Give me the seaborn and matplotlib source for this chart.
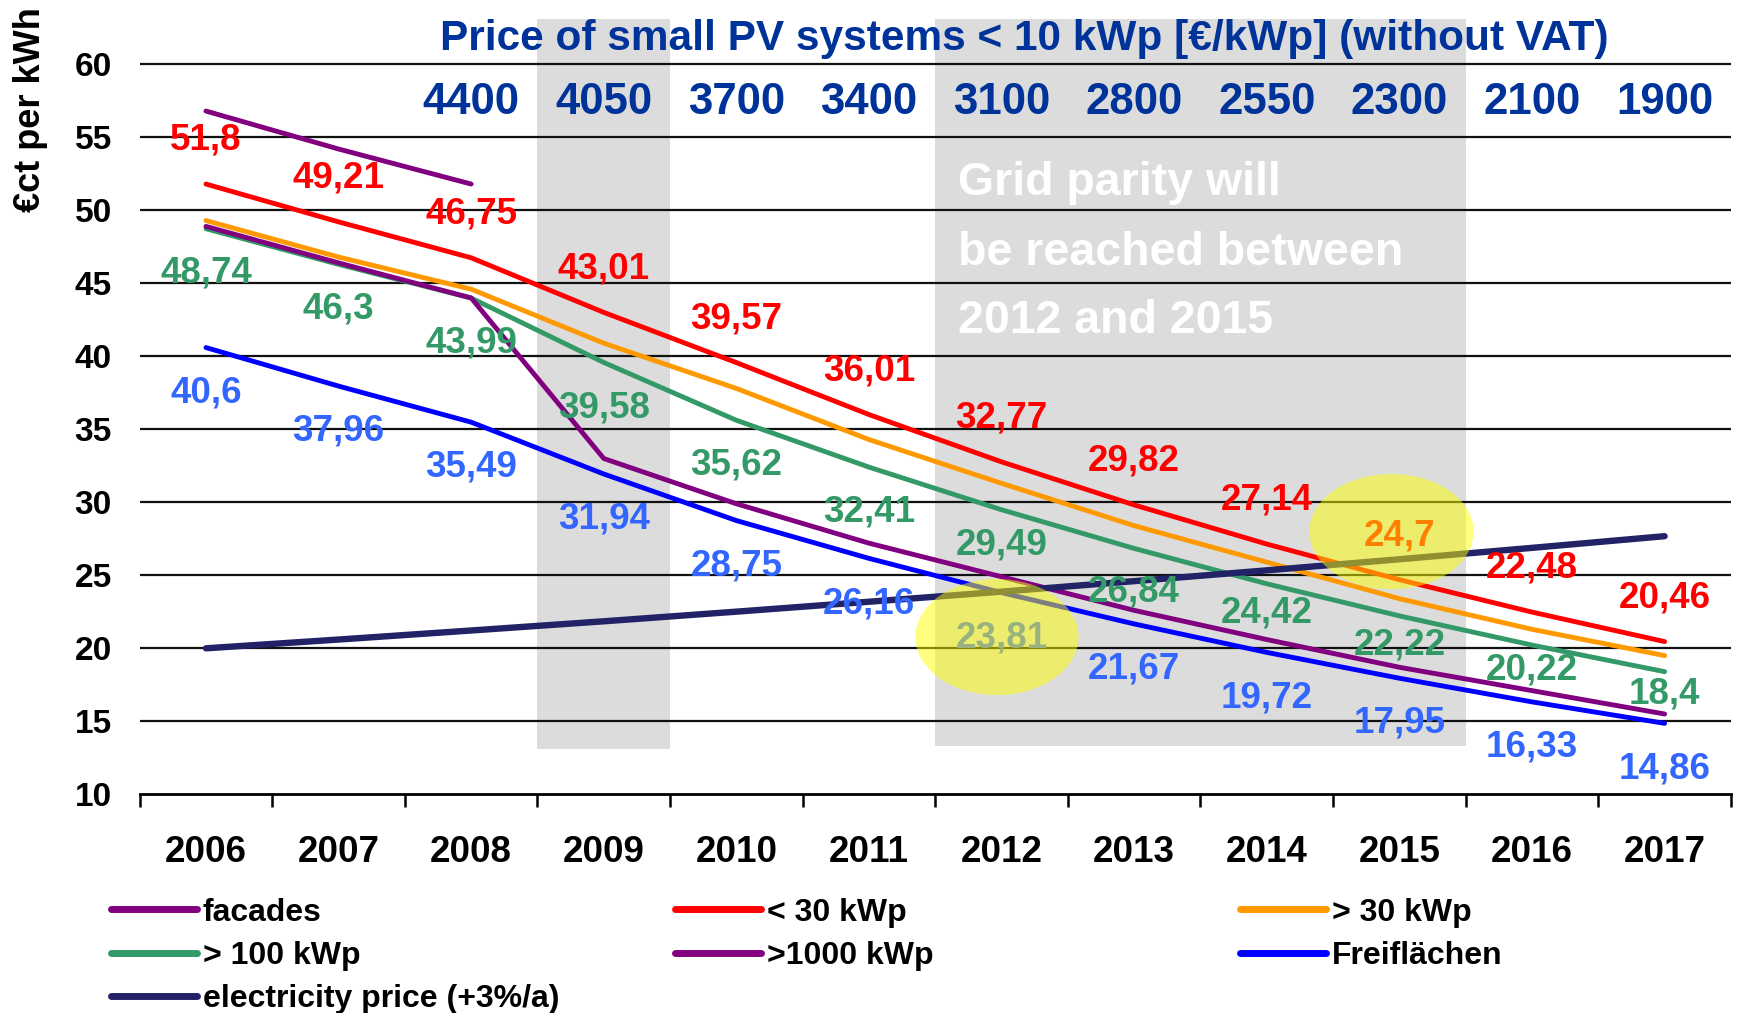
import numpy as np
import pandas as pd
import matplotlib
matplotlib.use("Agg")
import matplotlib.pyplot as plt
from matplotlib.patches import Rectangle, Ellipse
from matplotlib.lines import Line2D
import seaborn as sns

# data (ct per kWh)
years = [str(y) for y in range(2006, 2018)]
facades = [56.8, 54.2, 51.8] + [np.nan] * 9
lt30 = [51.8, 49.21, 46.75, 43.01, 39.57, 36.01, 32.77, 29.82, 27.14, 24.7, 22.48, 20.46]
gt30 = [49.3, 46.8, 44.6, 40.9, 37.8, 34.3, 31.3, 28.4, 25.9, 23.4, 21.3, 19.5]
gt100 = [48.74, 46.3, 43.99, 39.58, 35.62, 32.41, 29.49, 26.84, 24.42, 22.22, 20.22, 18.4]
gt1000 = [48.9, 46.4, 44.0, 33.0, 29.9, 27.2, 24.9, 22.6, 20.6, 18.7, 17.1, 15.5]
freiflaechen = [40.6, 37.96, 35.49, 31.94, 28.75, 26.16, 23.81, 21.67, 19.72, 17.95, 16.33, 14.86]
electricity = [20.0, 20.6, 21.22, 21.85, 22.51, 23.19, 23.88, 24.6, 25.34, 26.1, 26.88, 27.68]
system_price = [4400, 4050, 3700, 3400, 3100, 2800, 2550, 2300, 2100, 1900]  # 2008..2017

# layout: where the value labels sit relative to their line
red_off = [3.0] * 12
green_off = [-3.0, -3.05, -3.1, -3.1, -3.07, -3.1, -2.4, -3.0, -2.0, -2.0, -1.7, -1.5]
blue_off = [-3.1] * 12

sns.set_theme(style="white")
plt.rcParams["font.family"] = ["Liberation Sans", "DejaVu Sans"]
plt.rcParams["font.weight"] = "bold"
plt.rcParams["text.color"] = "black"

fig = plt.figure(figsize=(17.37, 10.13), dpi=100)
ax = fig.add_axes([0.0804, 0.2159, 0.9161, 0.7667])
x = np.arange(len(years))

# shaded periods
ax.add_patch(Rectangle((2.5, 13.1), 1, 50.0, color="#dcdcdc", lw=0, zorder=0.2))
ax.add_patch(Rectangle((5.5, 13.3), 4, 49.8, color="#dcdcdc", lw=0, zorder=0.2))

for yv in range(15, 61, 5):
    ax.axhline(yv, color="#111111", lw=1.6, zorder=0.5)

series = [
    ("facades", facades, "#800080", 3.5),
    ("> 100 kWp", gt100, "#339966", 3.5),
    ("electricity price (+3%/a)", electricity, "#222266", 4.6),
    ("< 30 kWp", lt30, "#ff0000", 3.5),
    ("> 30 kWp", gt30, "#ff9900", 3.5),
    (">1000 kWp", gt1000, "#800080", 3.5),
    ("Freiflächen", freiflaechen, "#0000ff", 3.5),
]
draw_order = ["> 100 kWp", "> 30 kWp", "< 30 kWp", ">1000 kWp", "Freiflächen", "facades",
              "electricity price (+3%/a)"]
lookup = {s[0]: s for s in series}
for name in draw_order:
    _, vals, col, lw = lookup[name]
    df = pd.DataFrame({"x": x, "y": vals}).dropna()
    sns.lineplot(data=df, x="x", y="y", color=col, lw=lw, ax=ax, zorder=3,
                 solid_capstyle="round")

lab_kw = dict(ha="center", va="center", fontsize=26.5, fontweight="bold", zorder=4)
fmt = lambda v: f"{v:g}".replace(".", ",")
for i in x:
    ax.text(i, lt30[i] + red_off[i], fmt(lt30[i]), color="#ff0000", **lab_kw)
    ax.text(i, gt100[i] + green_off[i], fmt(gt100[i]), color="#339966", **lab_kw)
    ax.text(i, freiflaechen[i] + blue_off[i], fmt(freiflaechen[i]), color="#3366ff", **lab_kw)

# yellow highlights
ax.add_patch(Ellipse((5.965, 20.77), 1.23, 7.95, color="#ffff00", alpha=0.5, lw=0, zorder=6))
ax.add_patch(Ellipse((8.94, 27.99), 1.24, 7.9, color="#ffff00", alpha=0.5, lw=0, zorder=6))

# price row
for i, p in enumerate(system_price):
    ax.text(i + 2, 57.4, str(p), ha="center", va="center", fontsize=31.5,
            fontweight="bold", color="#003399", zorder=4)
ax.text(6.17, 61.75, "Price of small PV systems < 10 kWp [€/kWp] (without VAT)",
        ha="center", va="center", fontsize=30.5, fontweight="bold", color="#003399", zorder=4)

for yy, line in zip([51.88, 47.1, 42.4], ["Grid parity will", "be reached between", "2012 and 2015"]):
    ax.text(5.67, yy, line, ha="left", va="center", fontsize=33.5, fontweight="bold",
            color="white", zorder=4)

ax.set_xlim(-0.5, 11.5)
ax.set_ylim(10, 63.2)
ax.set_xticks(x, labels=years)
ax.set_xticks(np.arange(-0.5, 12, 1), minor=True)
ax.tick_params(axis="x", which="major", length=0, pad=29, labelsize=26.5)
ax.tick_params(axis="x", which="minor", length=9, width=1.8, direction="out", color="black",
               bottom=True)
ax.set_yticks(range(10, 61, 5))
ax.tick_params(axis="y", length=0, pad=20, labelsize=24)
for lab in ax.get_xticklabels() + ax.get_yticklabels():
    lab.set_fontweight("bold")
    lab.set_color("black")
ax.set_xlabel("")
ax.set_ylabel("")
for s in ["left", "right", "top"]:
    ax.spines[s].set_visible(False)
ax.spines["bottom"].set_color("black")
ax.spines["bottom"].set_linewidth(2)
ax.grid(False)

fig.text(31 / 1737, 1 - 110 / 1013, "€ct per kWh", rotation=90, ha="center", va="center",
         fontsize=26, fontweight="bold", color="black")

# legend in three separate columns
cols = [["facades", "> 100 kWp", "electricity price (+3%/a)"],
        ["< 30 kWp", ">1000 kWp"],
        ["> 30 kWp", "Freiflächen"]]
col_x = [110.7, 675, 1240]
for names, cx in zip(cols, col_x):
    handles = [Line2D([], [], color=lookup[n][2], lw=5) for n in names]
    leg = fig.legend(handles, names, loc="upper left", bbox_to_anchor=(cx / 1737, 0.114),
                     frameon=False, borderpad=0, borderaxespad=0, handlelength=2.7,
                     handletextpad=0.18, labelspacing=0.42,
                     prop={"size": 23, "weight": "bold"})
    for t in leg.get_texts():
        t.set_color("black")

fig.savefig("out.png", dpi=100)
